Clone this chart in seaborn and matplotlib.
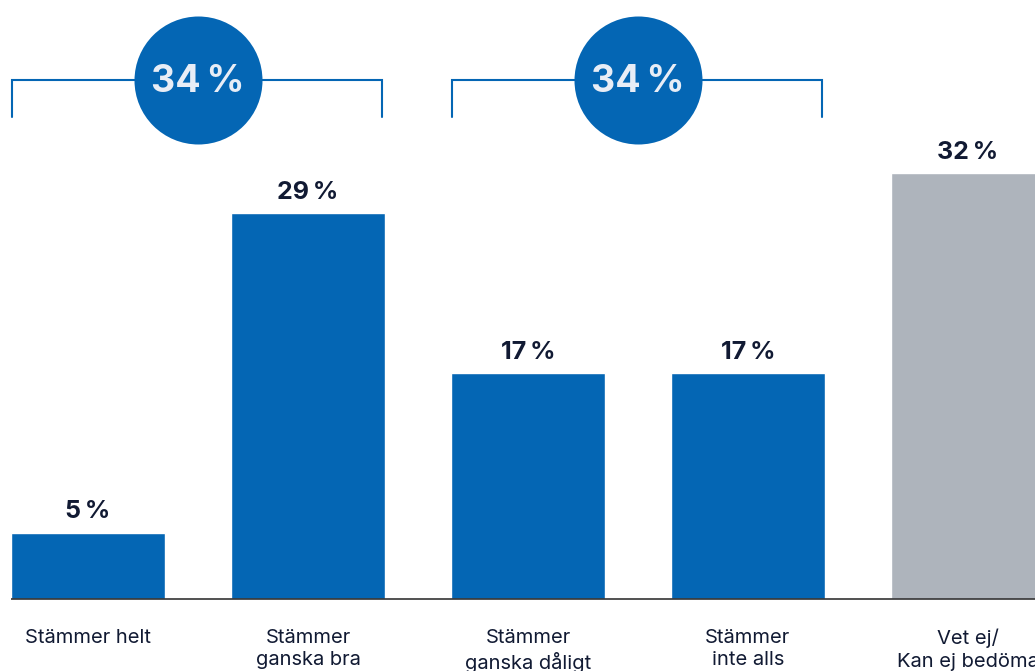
import matplotlib
matplotlib.use("Agg")
import matplotlib.pyplot as plt
import seaborn as sns
import pandas as pd

categories = ["Stämmer helt", "Stämmer\nganska bra", "Stämmer\nganska dåligt",
              "Stämmer\ninte alls", "Vet ej/\nKan ej bedöma"]
values = [5, 29, 17, 17, 32]
bar_colors = ["#0466b4", "#0466b4", "#0466b4", "#0466b4", "#aeb4bc"]
# Groups summarised in the circles above the bars (indices into categories)
groups = [(0, 1), (2, 3)]

BLUE = "#0466b4"
TEXT = "#111a33"

sns.set_theme(style="white")
plt.rcParams["font.family"] = ["Inter", "DejaVu Sans"]

W, H = 1035, 671
fig = plt.figure(figsize=(W / 100, H / 100), dpi=100)
fig.patch.set_facecolor("white")
ax = fig.add_axes([0, 72 / H, 1, 599 / H])

df = pd.DataFrame({"cat": categories, "val": values})
sns.barplot(data=df, x="cat", y="val", hue="cat", palette=bar_colors,
            width=0.7, legend=False, ax=ax, saturation=1)

ax.set_xlim(-0.4, 4.305)
ax.set_ylim(0, 599 / 13.3)
ax.axis("off")

# baseline
ax.plot([-0.35, 4.5], [0, 0], color="#333333", lw=1.2, clip_on=False,
        solid_capstyle="butt")

px = 1 / 13.3  # data units per pixel (vertical)

# value labels
for i, v in enumerate(values):
    ax.text(i, v + 14 * px, f"{v}\u2009%", ha="center", va="baseline",
            fontsize=18, fontweight="bold", color=TEXT)

# category labels
for i, c in enumerate(categories):
    ax.text(i, -30 * px, c, ha="center", va="top", fontsize=14.5,
            color=TEXT, linespacing=1.3)

# brackets with summary circles
for a, b in groups:
    x0 = a - 0.345
    x1 = b + 0.336
    ytop = 519 * px
    ybot = 482 * px
    ax.plot([x0, x0, x1, x1], [ybot, ytop, ytop, ybot], color=BLUE, lw=1.5,
            clip_on=False, solid_joinstyle="miter")
    xc = (a + b) / 2
    diam_pt = 128 * 72 / 100
    ax.scatter([xc], [ytop], s=diam_pt ** 2, color=BLUE, zorder=5,
               clip_on=False, linewidths=0)
    total = sum(values[k] for k in (a, b))
    ax.text(xc, ytop - 1.5 * px, f"{total}\u2009%", ha="center", va="center",
            fontsize=27, fontweight="bold", color="#e8edf6", zorder=6)

fig.savefig("out.png", dpi=100, facecolor="white")
